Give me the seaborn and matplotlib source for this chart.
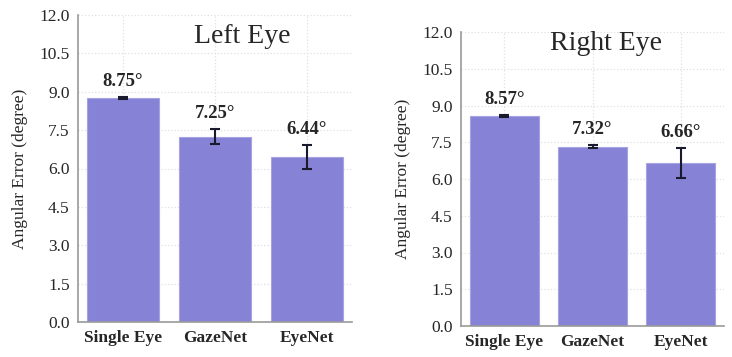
import matplotlib
matplotlib.use("Agg")
import matplotlib.pyplot as plt
import seaborn as sns
import pandas as pd

models = ['Single Eye', 'GazeNet', 'EyeNet']
left_err = [8.75, 7.25, 6.44]
left_sd = [0.05, 0.29, 0.47]
right_err = [8.57, 7.32, 6.66]
right_sd = [0.05, 0.05, 0.6]
yticks = [0.0, 1.5, 3.0, 4.5, 6.0, 7.5, 9.0, 10.5, 12.0]

sns.set_style('white')
plt.rcParams['font.family'] = ['Liberation Serif', 'DejaVu Serif']

bar_color = '#8683d6'

fig = plt.figure(figsize=(7.32, 3.57), dpi=100)
ax_l = fig.add_axes([78 / 732, 1 - 322 / 357, 274 / 732, 307 / 357])
ax_r = fig.add_axes([461 / 732, 1 - 326 / 357, 263 / 732, 294 / 357])


def draw(ax, vals, sds, title, title_pos, label_gap):
    df = pd.DataFrame({'model': models, 'err': vals})
    sns.barplot(data=df, x='model', y='err', color=bar_color, width=0.78,
                saturation=1, errorbar=None, edgecolor='#a5a3e4', linewidth=0.8,
                ax=ax, zorder=2)
    ax.errorbar(range(len(models)), vals, yerr=sds, fmt='none', ecolor='#1a1a2e',
                elinewidth=1.5, capsize=3.5, capthick=1.5, zorder=3)
    for i, (v, s) in enumerate(zip(vals, sds)):
        ax.annotate(f'{v:.2f}°', (i, max(v, v + s)), xytext=(0, label_gap),
                    textcoords='offset points', ha='center', va='bottom',
                    fontsize=13.5, fontweight='bold')
    ax.set_ylim(0, 12)
    ax.set_xlim(-0.49, 2.49)
    ax.set_yticks(yticks)
    ax.set_yticklabels([f'{t:.1f}' for t in yticks], fontsize=12.5)
    ax.set_xticks(range(len(models)))
    ax.set_xticklabels(models, fontsize=12.5, fontweight='bold')
    ax.set_xlabel('')
    ax.set_ylabel('Angular Error (degree)', fontsize=12.5, labelpad=8)
    ax.grid(True, linestyle=':', color='#e0e0e0', linewidth=0.9, zorder=0)
    ax.set_axisbelow(True)
    for sp in ['top', 'right']:
        ax.spines[sp].set_visible(False)
    for sp in ['left', 'bottom']:
        ax.spines[sp].set_color('#9a9a9a')
        ax.spines[sp].set_linewidth(1.2)
    ax.tick_params(axis='both', which='both', direction='out', length=3,
                   color='#9a9a9a', width=1, pad=3)
    ax.text(title_pos[0], title_pos[1], title, transform=ax.transAxes,
            ha='center', va='center', fontsize=20)


draw(ax_l, left_err, left_sd, 'Left Eye', (0.60, 0.93), 5)
draw(ax_r, right_err, right_sd, 'Right Eye', (0.55, 0.96), 5)

fig.savefig('out.png', dpi=100)
